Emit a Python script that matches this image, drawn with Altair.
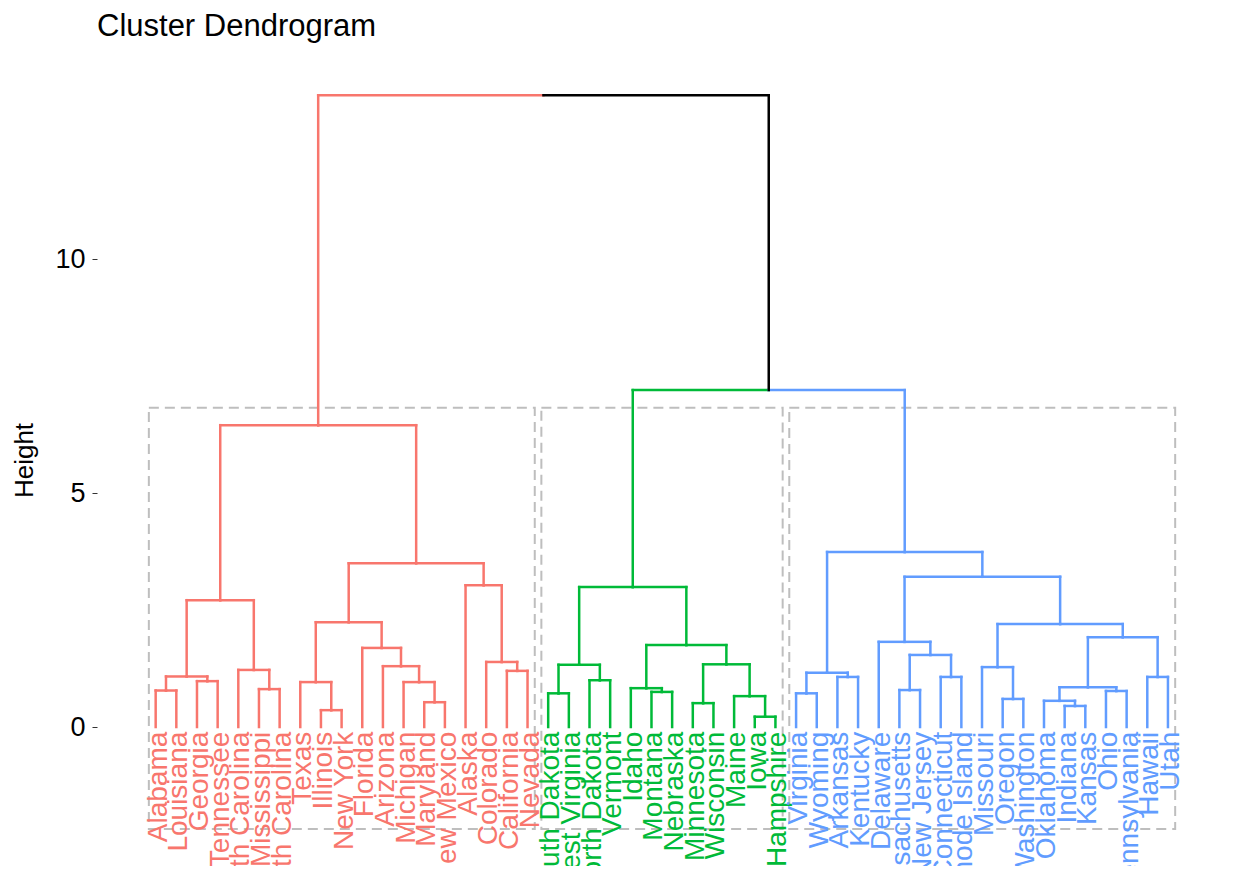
import altair as alt
import pandas as pd

# ---------------- data ----------------
leaf_order = [
    "Alabama", "Louisiana", "Georgia", "Tennessee", "North Carolina", "Mississippi",
    "South Carolina", "Texas", "Illinois", "New York", "Florida", "Arizona", "Michigan",
    "Maryland", "New Mexico", "Alaska", "Colorado", "California", "Nevada",
    "South Dakota", "West Virginia", "North Dakota", "Vermont", "Idaho", "Montana",
    "Nebraska", "Minnesota", "Wisconsin", "Maine", "Iowa", "New Hampshire",
    "Virginia", "Wyoming", "Arkansas", "Kentucky", "Delaware", "Massachusetts",
    "New Jersey", "Connecticut", "Rhode Island", "Missouri", "Oregon", "Washington",
    "Oklahoma", "Indiana", "Kansas", "Ohio", "Pennsylvania", "Hawaii", "Utah",
]
cluster_sizes = [19, 12, 19]
cluster_ids = ["c1", "c2", "c3"]
cluster_colors = ["#F8766D", "#00BA38", "#619CFF"]

# merges: (id, left child, right child, height)
merge_ids = [
    "#r0", "#r1", "#r2", "#r3", "#r4", "#r5", "#r6", "#r7", "#r8", "#r9",
    "#r10", "#r11", "#r12", "#r13", "#r14", "#r15", "#r16", "#r17",
    "#g0", "#g1", "#g2", "#g3", "#g4", "#g5", "#g6", "#g7", "#g8", "#g9", "#g10",
    "#b0", "#b1", "#b2", "#b3", "#b4", "#b5", "#b6", "#b7", "#b8", "#b9",
    "#b10", "#b11", "#b12", "#b13", "#b14", "#b15", "#b16", "#b17",
    "#gb", "#root",
]
merge_left = [
    "Alabama", "Georgia", "#r0", "Mississippi", "North Carolina", "#r2", "Illinois",
    "Texas", "Maryland", "Michigan", "Arizona", "Florida", "#r7", "California",
    "Colorado", "Alaska", "#r12", "#r5",
    "South Dakota", "North Dakota", "#g0", "Montana", "Idaho", "Minnesota", "Iowa",
    "Maine", "#g5", "#g4", "#g2",
    "Virginia", "Arkansas", "#b0", "Massachusetts", "Connecticut", "#b3", "Delaware",
    "Oregon", "Missouri", "Indiana", "Oklahoma", "Ohio", "#b10", "Hawaii", "#b12",
    "#b8", "#b6", "#b2",
    "#g10", "#r17",
]
merge_right = [
    "Louisiana", "Tennessee", "#r1", "South Carolina", "#r3", "#r4", "New York",
    "#r6", "New Mexico", "#r8", "#r9", "#r10", "#r11", "Nevada",
    "#r13", "#r14", "#r15", "#r16",
    "West Virginia", "Vermont", "#g1", "Nebraska", "#g3", "Wisconsin", "New Hampshire",
    "#g6", "#g7", "#g8", "#g9",
    "Wyoming", "Kentucky", "#b1", "New Jersey", "Rhode Island", "#b4", "#b5",
    "Washington", "#b7", "Kansas", "#b9", "Pennsylvania", "#b11", "Utah", "#b13",
    "#b14", "#b15", "#b16",
    "#b17", "#gb",
]
merge_height = [
    0.78, 0.98, 1.08, 0.81, 1.22, 2.71, 0.36, 0.96, 0.53, 0.96,
    1.30, 1.69, 2.24, 1.20, 1.39, 3.03, 3.50, 6.45,
    0.72, 1.00, 1.33, 0.75, 0.83, 0.51, 0.22, 0.66, 1.34, 1.75, 2.99,
    0.72, 1.07, 1.16, 0.79, 1.07, 1.54, 1.82, 0.60, 1.28, 0.45,
    0.56, 0.77, 0.85, 1.07, 1.92, 2.20, 3.21, 3.74,
    7.20, 13.50,
]

rect_top = 6.82
rect_bottom = -2.18
y_ticks = [0, 5, 10]

# ---------------- build tree geometry from the merges ----------------
pos, hgt, clu = {}, {}, {}
k = 0
for cid, size in zip(cluster_ids, cluster_sizes):
    for _ in range(size):
        name = leaf_order[k]
        pos[name] = k + 1
        hgt[name] = 0.0
        clu[name] = cid
        k += 1

seg_rows = []
for mid, l, r, h in zip(merge_ids, merge_left, merge_right, merge_height):
    pos[mid] = (pos[l] + pos[r]) / 2.0
    hgt[mid] = h
    clu[mid] = clu[l] if clu[l] == clu[r] else "none"
    for c in (l, r):
        seg_rows.append(dict(x=pos[mid], x2=pos[c], y=h, y2=h, grp=clu[c]))
        seg_rows.append(dict(x=pos[c], x2=pos[c], y=h, y2=hgt[c], grp=clu[c]))
segs = pd.DataFrame(seg_rows)

labels = pd.DataFrame(dict(name=leaf_order, x=[pos[n] for n in leaf_order],
                           grp=[clu[n] for n in leaf_order]))

rect_rows = []
k = 0
for cid, size in zip(cluster_ids, cluster_sizes):
    rect_rows.append(dict(x=k + 1 - 0.33, x2=k + size + 0.35, y=rect_bottom, y2=rect_top))
    k += size
rects = pd.DataFrame(rect_rows)

# ---------------- chart ----------------
FONT = "Liberation Sans"
xscale = alt.Scale(domain=[-1.84, 52.81], nice=False, zero=False)
yscale = alt.Scale(domain=[-2.97, 14.04], nice=False, zero=False)
cscale = alt.Scale(domain=cluster_ids + ["none"], range=cluster_colors + ["#000000"])

rect_layer = alt.Chart(rects).mark_rect(
    fill="transparent", stroke="#BEBEBE", strokeWidth=2, strokeDash=[10, 6]
).encode(
    x=alt.X("x:Q", scale=xscale, axis=None),
    x2="x2:Q",
    y=alt.Y("y:Q", scale=yscale),
    y2="y2:Q",
)

seg_layer = alt.Chart(segs).mark_rule(strokeWidth=2.5, strokeCap="square").encode(
    x=alt.X("x:Q", scale=xscale, axis=None),
    x2="x2:Q",
    y=alt.Y(
        "y:Q",
        scale=yscale,
        axis=alt.Axis(
            values=y_ticks, title="Height", grid=False, domain=False,
            tickSize=5, tickWidth=1, tickColor="#333333",
            labelFontSize=27, labelColor="#000000", labelFont=FONT, labelPadding=7,
            titleFontSize=26, titleFont=FONT, titleFontWeight="normal", titleColor="#000000",
            titleAngle=270, titleAlign="center", titleBaseline="middle",
            titleX=-73, titleY=390,
        ),
    ),
    y2="y2:Q",
    color=alt.Color("grp:N", scale=cscale, legend=None),
)

label_layer = alt.Chart(labels).mark_text(
    angle=270, align="right", baseline="alphabetic", dy=11, fontSize=28, font=FONT, clip=True
).encode(
    x=alt.X("x:Q", scale=xscale, axis=None),
    y=alt.datum(-0.1, scale=yscale),
    text="name:N",
    color=alt.Color("grp:N", scale=cscale, legend=None),
)

chart = alt.layer(rect_layer, seg_layer, label_layer).properties(
    width=1129,
    height=796,
    title=alt.TitleParams(
        "Cluster Dendrogram", anchor="start", frame="group", fontSize=31, font=FONT,
        fontWeight="normal", color="#000000", offset=3, baseline="alphabetic",
    ),
    autosize=alt.AutoSizeParams(type="none"),
    padding={"left": 89, "top": 62, "right": 6, "bottom": 12},
).configure(background="white").configure_view(strokeWidth=0)

chart.save("out.html", embed_options={"renderer": "svg", "actions": False})
